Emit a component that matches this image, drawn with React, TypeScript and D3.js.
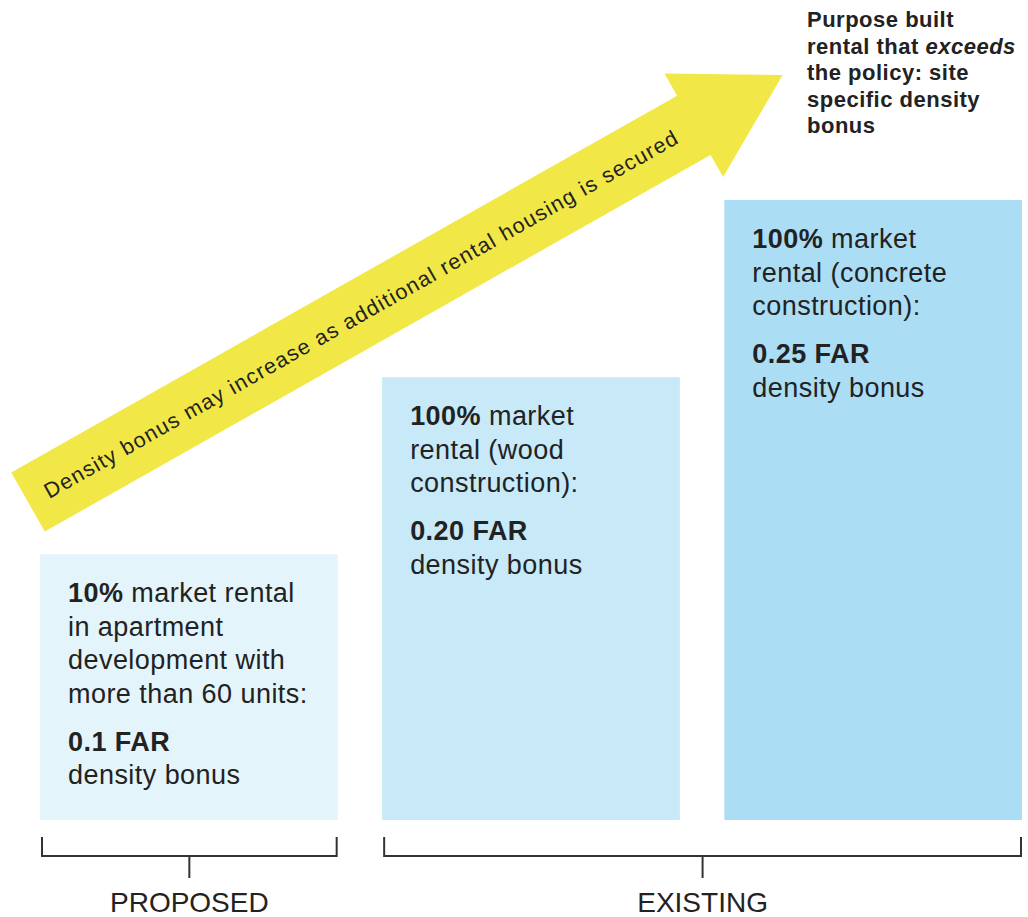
import React from "react";
import * as d3 from "d3";

// ---- data ----
const categories = ["proposed10", "wood100", "concrete100"];
const tiers = [1.5, 2.5, 3.5]; // relative step height of each bonus tier
const farValues = ["0.1 FAR", "0.20 FAR", "0.25 FAR"];
const barColors = ["#E4F4FB", "#C7E9F8", "#ABDDF5"];
const leadBold = ["10%", "100%", "100%"];
const descLines = [
  [" market rental", "in apartment", "development with", "more than 60 units:"],
  [" market", "rental (wood", "construction):"],
  [" market", "rental (concrete", "construction):"],
];
const bonusText = "density bonus";
const groups = [
  { label: "PROPOSED", from: 0, to: 0 },
  { label: "EXISTING", from: 1, to: 2 },
];
const arrowText = "Density bonus may increase as additional rental housing is secured";
const noteLines = [
  [{ t: "Purpose built", i: false }],
  [{ t: "rental that ", i: false }, { t: "exceeds", i: true }],
  [{ t: "the policy: site", i: false }],
  [{ t: "specific density", i: false }],
  [{ t: "bonus", i: false }],
];

const W = 1028;
const H = 917;
const FONT = "'Liberation Sans', Arial, Helvetica, sans-serif";

export default function App() {
  const x = d3.scaleBand<string>().domain(categories).range([40, 1022]).paddingInner(0.13);
  const y = d3.scaleLinear().domain([0, 3.5]).range([820, 200]);
  const bw = x.bandwidth();

  // arrow geometry (local coords, then rotated)
  const shaftLen = 765;
  const headLen = 102;
  const shaftHalf = 34;
  const headHalf = 59.5;
  const arrowPts: [number, number][] = [
    [0, -shaftHalf],
    [shaftLen, -shaftHalf],
    [shaftLen, -headHalf],
    [shaftLen + headLen, 0],
    [shaftLen, headHalf],
    [shaftLen, shaftHalf],
    [0, shaftHalf],
  ];
  const arrowPath = d3.line()(arrowPts) + "Z";

  const lineH = 33.5;
  const paraGap = 48;

  return (
    <svg
      width={W}
      height={H}
      viewBox={`0 0 ${W} ${H}`}
      style={{ position: "absolute", left: 0, top: 0, display: "block", background: "#fff" }}
      fontFamily={FONT}
    >
      <rect x={0} y={0} width={W} height={H} fill="#fff" />

      {/* bars */}
      {categories.map((c, i) => {
        const x0 = x(c)!;
        const top = y(tiers[i]);
        const tx = x0 + 28;
        const ty = top + 48;
        const lines = descLines[i];
        const farY = ty + (lines.length - 1) * lineH + paraGap;
        return (
          <g key={c}>
            <rect x={x0} y={top} width={bw} height={y(0) - top} fill={barColors[i]} />
            <g fill="#222" fontSize={27} letterSpacing={0.45}>
              {lines.map((ln, j) => (
                <text key={j} x={tx} y={ty + j * lineH}>
                  {j === 0 ? (
                    <>
                      <tspan fontWeight="bold">{leadBold[i]}</tspan>
                      <tspan>{ln}</tspan>
                    </>
                  ) : (
                    ln
                  )}
                </text>
              ))}
              <text x={tx} y={farY} fontWeight="bold">
                {farValues[i]}
              </text>
              <text x={tx} y={farY + lineH}>
                {bonusText}
              </text>
            </g>
          </g>
        );
      })}

      {/* arrow */}
      <g transform="translate(28,502) rotate(-29.5)">
        <path d={arrowPath} fill="#F1E847" />
        <text
          x={382}
          y={8}
          textAnchor="middle"
          fontSize={21.5}
          fill="#222"
          textLength={724}
          lengthAdjust="spacing"
        >
          {arrowText}
        </text>
      </g>

      {/* note top right */}
      <g fill="#222" fontSize={22} fontWeight="bold" letterSpacing={0.5}>
        {noteLines.map((ln, j) => (
          <text key={j} x={807} y={27 + j * 26.5}>
            {ln.map((s, k) => (
              <tspan key={k} fontStyle={s.i ? "italic" : "normal"}>
                {s.t}
              </tspan>
            ))}
          </text>
        ))}
      </g>

      {/* brackets */}
      {groups.map((g) => {
        const left = x(categories[g.from])! + 2;
        const right = x(categories[g.to])! + bw - 1;
        const mid = (left + right) / 2;
        const by = 856;
        return (
          <g key={g.label}>
            <path
              d={`M${left},837V${by}H${right}V837`}
              fill="none"
              stroke="#333"
              strokeWidth={2}
            />
            <line x1={mid} x2={mid} y1={by} y2={878} stroke="#333" strokeWidth={2} />
            <text x={mid} y={912} textAnchor="middle" fontSize={28} fill="#222">
              {g.label}
            </text>
          </g>
        );
      })}
    </svg>
  );
}
